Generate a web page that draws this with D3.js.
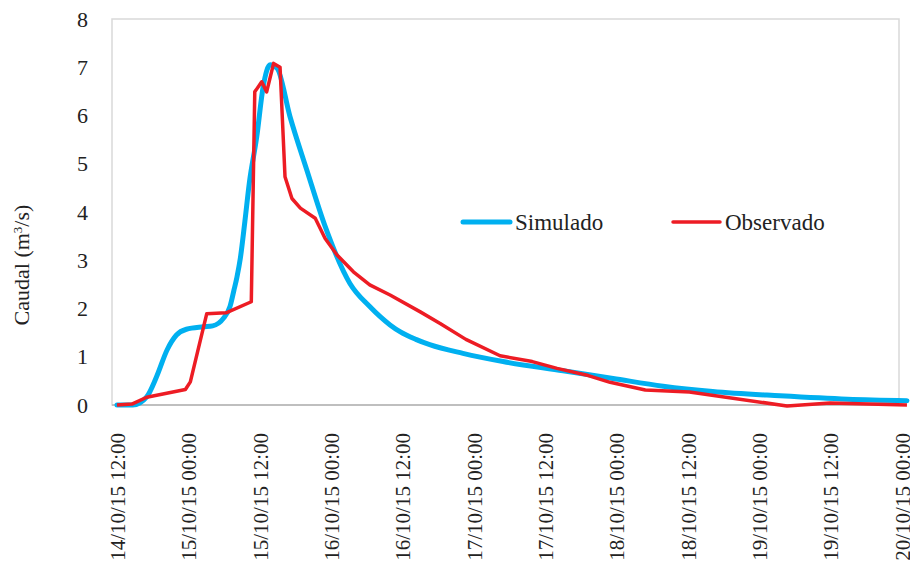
<!DOCTYPE html>
<html>
<head>
<meta charset="utf-8">
<script src="https://cdn.jsdelivr.net/npm/d3@7"></script>
<style>
  body { margin: 0; background: #fff; }
  text { font-family: "Liberation Serif", "Times New Roman", serif; fill: #222; }
</style>
</head>
<body>
<svg id="chart" width="910" height="564"></svg>
<script>
// ticks on the axes
var yTicks = [0, 1, 2, 3, 4, 5, 6, 7, 8];
var xTicks = ["2015-10-14 12:00", "2015-10-15 00:00", "2015-10-15 12:00", "2015-10-16 00:00",
  "2015-10-16 12:00", "2015-10-17 00:00", "2015-10-17 12:00", "2015-10-18 00:00",
  "2015-10-18 12:00", "2015-10-19 00:00", "2015-10-19 12:00", "2015-10-20 00:00"];

// Simulado
var simTimes = ["2015-10-14 12:00", "2015-10-14 14:40", "2015-10-14 17:00", "2015-10-14 18:40",
  "2015-10-14 20:25", "2015-10-14 22:00", "2015-10-14 23:40", "2015-10-15 02:30",
  "2015-10-15 04:05", "2015-10-15 05:55", "2015-10-15 07:00", "2015-10-15 07:40",
  "2015-10-15 08:10", "2015-10-15 08:45", "2015-10-15 09:30", "2015-10-15 10:15",
  "2015-10-15 11:30", "2015-10-15 12:35", "2015-10-15 13:45", "2015-10-15 14:55",
  "2015-10-15 17:05", "2015-10-15 19:55", "2015-10-15 23:00", "2015-10-16 03:10",
  "2015-10-16 06:30", "2015-10-16 09:55", "2015-10-16 11:35", "2015-10-16 14:15",
  "2015-10-16 16:35", "2015-10-16 22:10", "2015-10-17 04:55", "2015-10-17 15:00",
  "2015-10-17 23:25", "2015-10-18 07:50", "2015-10-18 16:10", "2015-10-19 03:30",
  "2015-10-19 14:50", "2015-10-20 00:50"];
var simValues = [0, 0, 0.17, 0.59,
  1.14, 1.45, 1.57, 1.62,
  1.64, 1.80, 2.04, 2.38,
  2.65, 3.05, 3.8, 4.6,
  5.56, 6.6, 7.05, 6.98,
  5.98, 4.87, 3.7, 2.52,
  2.04, 1.66, 1.52, 1.36,
  1.25, 1.07, 0.90, 0.71,
  0.55, 0.39, 0.28, 0.19,
  0.12, 0.09];

// Observado
var obsTimes = ["2015-10-14 12:00", "2015-10-14 14:30", "2015-10-14 17:00", "2015-10-14 23:30",
  "2015-10-15 00:20", "2015-10-15 03:05", "2015-10-15 06:20", "2015-10-15 10:35",
  "2015-10-15 11:10", "2015-10-15 12:20", "2015-10-15 13:10", "2015-10-15 14:20",
  "2015-10-15 15:25", "2015-10-15 16:15", "2015-10-15 17:25", "2015-10-15 18:50",
  "2015-10-15 21:20", "2015-10-15 23:00", "2015-10-16 01:00", "2015-10-16 03:45",
  "2015-10-16 06:30", "2015-10-16 09:55", "2015-10-16 15:00", "2015-10-16 18:20",
  "2015-10-16 22:40", "2015-10-17 04:25", "2015-10-17 09:50", "2015-10-17 14:00",
  "2015-10-17 19:15", "2015-10-17 22:55", "2015-10-18 04:50", "2015-10-18 12:15",
  "2015-10-19 04:40", "2015-10-19 11:55", "2015-10-20 00:50"];
var obsValues = [0, 0.02, 0.16, 0.32,
  0.48, 1.89, 1.91, 2.14,
  6.49, 6.70, 6.49, 7.08,
  7.00, 4.73, 4.28, 4.08,
  3.87, 3.45, 3.11, 2.76,
  2.49, 2.28, 1.93, 1.69,
  1.36, 1.02, 0.90, 0.76,
  0.61, 0.47, 0.31, 0.27,
  -0.02, 0.04, 0.0];

var parse = d3.timeParse("%Y-%m-%d %H:%M");
var fmt = d3.timeFormat("%d/%m/%y %H:%M");

var svg = d3.select("#chart");
var box = { left: 112, right: 899, top: 19, bottom: 405 };

var x = d3.scaleTime()
  .domain([parse(xTicks[0]), parse(xTicks[xTicks.length - 1])])
  .range([117, 902]);

var y = d3.scaleLinear()
  .domain([0, 8])
  .range([box.bottom, box.top]);

// plot frame
svg.append("rect")
  .attr("x", box.left).attr("y", box.top)
  .attr("width", box.right - box.left).attr("height", box.bottom - box.top)
  .attr("fill", "none").attr("stroke", "#d9d9d9").attr("stroke-width", 1.5);

svg.append("line")
  .attr("x1", box.left).attr("x2", box.right)
  .attr("y1", box.bottom).attr("y2", box.bottom)
  .attr("stroke", "#bfbfbf").attr("stroke-width", 2);

// y axis
var yAxis = d3.axisLeft(y).tickValues(yTicks).tickSize(0).tickPadding(0);
var gy = svg.append("g")
  .attr("transform", "translate(" + 88 + ",0)")
  .call(yAxis);
gy.select(".domain").remove();
gy.selectAll("text").style("font-size", "22px").attr("fill", "#222")
  .style("font-family", "Liberation Serif");

// x axis
var xAxis = d3.axisBottom(x).tickValues(xTicks.map(parse)).tickFormat(fmt).tickSize(0);
var gx = svg.append("g")
  .attr("transform", "translate(0," + box.bottom + ")")
  .call(xAxis);
gx.select(".domain").remove();
gx.selectAll("text")
  .style("font-size", "21px").attr("fill", "#222")
  .style("font-family", "Liberation Serif")
  .attr("text-anchor", "end")
  .attr("transform", "rotate(-90)")
  .attr("x", -28).attr("y", 0).attr("dy", "0.35em");

// y title
svg.append("text")
  .attr("transform", "translate(29,265) rotate(-90)")
  .attr("text-anchor", "middle")
  .style("font-size", "22px")
  .html("Caudal (m<tspan baseline-shift='super' font-size='13px'>3</tspan>/s)");

// lines
var line = d3.line()
  .x(d => x(d.t))
  .y(d => y(d.v));

var simData = simTimes.map((t, i) => ({ t: parse(t), v: simValues[i] }));
var obsData = obsTimes.map((t, i) => ({ t: parse(t), v: obsValues[i] }));

svg.append("path")
  .datum(simData)
  .attr("fill", "none")
  .attr("stroke", "#00b0f0")
  .attr("stroke-width", 5)
  .attr("stroke-linejoin", "round")
  .attr("stroke-linecap", "round")
  .attr("d", line.curve(d3.curveMonotoneX));

svg.append("path")
  .datum(obsData)
  .attr("fill", "none")
  .attr("stroke", "#ed1c24")
  .attr("stroke-width", 3.5)
  .attr("stroke-linejoin", "round")
  .attr("d", line.curve(d3.curveLinear));

// legend
var legend = [
  { name: "Simulado", color: "#00b0f0", w: 5, x: 463 },
  { name: "Observado", color: "#ed1c24", w: 3.5, x: 673 }
];
legend.forEach(l => {
  svg.append("line")
    .attr("x1", l.x).attr("x2", l.x + 47)
    .attr("y1", 222).attr("y2", 222)
    .attr("stroke", l.color).attr("stroke-width", l.w)
    .attr("stroke-linecap", "round");
  svg.append("text")
    .attr("x", l.x + 52).attr("y", 222).attr("dy", "0.35em")
    .style("font-size", "23px")
    .text(l.name);
});
</script>
</body>
</html>
